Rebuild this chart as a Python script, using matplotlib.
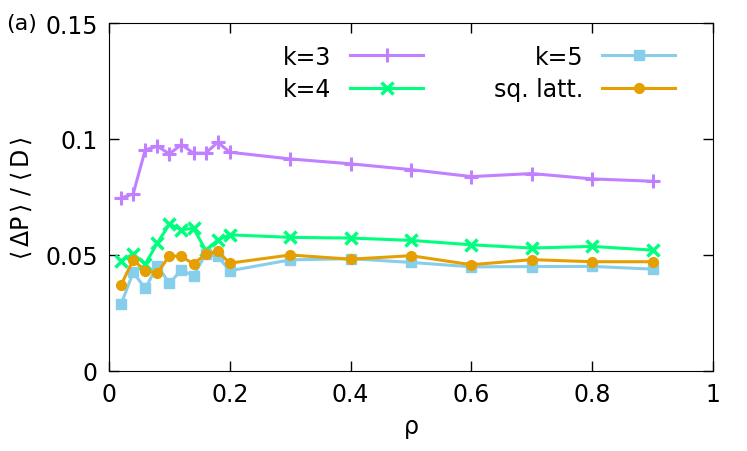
import matplotlib
matplotlib.use("Agg")
import matplotlib.pyplot as plt

rho = [0.02, 0.04, 0.06, 0.08, 0.1, 0.12, 0.14, 0.16, 0.18, 0.2,
       0.3, 0.4, 0.5, 0.6, 0.7, 0.8, 0.9]

k3 = [0.0746, 0.0763, 0.0953, 0.0969, 0.0936, 0.0976, 0.0939, 0.0939, 0.0986, 0.0943,
      0.0914, 0.0893, 0.0868, 0.0838, 0.0851, 0.0828, 0.0818]
k4 = [0.0475, 0.0504, 0.0461, 0.0551, 0.0633, 0.0609, 0.0615, 0.0521, 0.0564, 0.0587,
      0.0576, 0.0573, 0.0563, 0.0544, 0.0530, 0.0537, 0.0521]
k5 = [0.0288, 0.0425, 0.0356, 0.0453, 0.0379, 0.0435, 0.0410, 0.0504, 0.0494, 0.0432,
      0.0479, 0.0484, 0.0468, 0.0449, 0.0450, 0.0451, 0.0439]
sq = [0.0371, 0.0479, 0.0432, 0.0422, 0.0497, 0.0494, 0.0461, 0.0504, 0.0516, 0.0465,
      0.0500, 0.0482, 0.0497, 0.0458, 0.0480, 0.0471, 0.0471]

xticks = [0, 0.2, 0.4, 0.6, 0.8, 1]
xticklabels = ["0", "0.2", "0.4", "0.6", "0.8", "1"]
yticks = [0, 0.05, 0.1, 0.15]
yticklabels = ["0", "0.05", "0.1", "0.15"]

plt.rcParams["font.family"] = ["DejaVu Sans"]
plt.rcParams["font.size"] = 17

fig = plt.figure(figsize=(7.47, 4.52), dpi=100)
ax = fig.add_axes([109 / 747, 1 - 372 / 452, (713 - 109) / 747, (372 - 24) / 452])

lw = 2.2
ax.plot(rho, k3, color="#c080ff", lw=lw, marker="+", ms=10, mew=2.2, label="k=3")
ax.plot(rho, k4, color="#00ff7f", lw=lw, marker="x", ms=8, mew=2.5, label="k=4")
ax.plot(rho, k5, color="#87ceeb", lw=lw, marker="s", ms=6.5, label="k=5")
ax.plot(rho, sq, color="#e69f00", lw=lw, marker="o", ms=7, label="sq. latt.")

ax.set_xlim(0, 1)
ax.set_ylim(0, 0.15)
ax.set_xticks(xticks)
ax.set_xticklabels(xticklabels)
ax.set_yticks(yticks)
ax.set_yticklabels(yticklabels)
ax.tick_params(direction="in", length=7, width=1, top=True, right=True, pad=8)
ax.set_xlabel("ρ", labelpad=6)
ax.set_ylabel(r"$\langle\,\mathrm{\Delta P}\,\rangle$ / $\langle\,\mathrm{D}\,\rangle$", labelpad=8)

# panel tag sits right against the top y tick label, as in the original
fig.text(6 / 747, 1 - 24 / 452, "(a)", fontsize=16, va="center", ha="left")

ax.legend(ncol=2, loc="upper right", bbox_to_anchor=(0.965, 0.985), frameon=False,
          markerfirst=False, handlelength=3.1, handletextpad=0.8, columnspacing=3.0,
          labelspacing=0.35, borderpad=0.2)

fig.savefig("out.png", dpi=100)
